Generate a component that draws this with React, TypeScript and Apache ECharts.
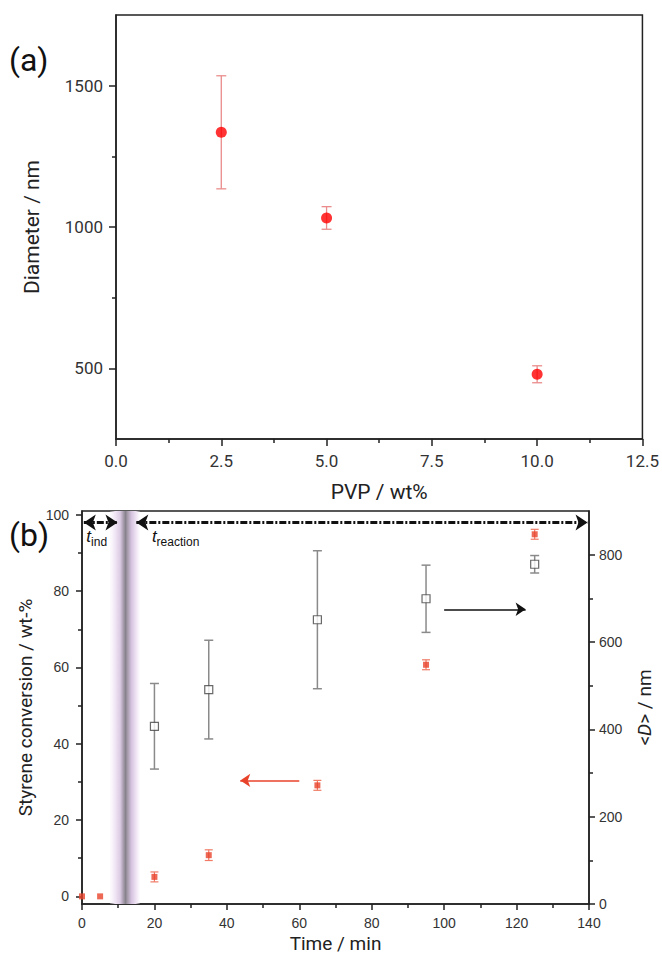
import React, { useEffect, useRef } from "react";
import * as echarts from "echarts";

// ---- Panel (a) data ----
const PVP = [2.5, 5.0, 10.0];
const DIAM = [1335, 1032, 479];
const DIAM_ERR = [200, 40, 30];
const A_Y_LABELS = [500, 1000, 1500];
const A_Y_MINOR = [750, 1250];

// ---- Panel (b) data ----
const TIME_CONV = [0, 5, 20, 35, 65, 95, 125];
const CONV = [0, 0, 5.1, 10.8, 29.1, 60.7, 94.9];
const CONV_ERR = [0, 0, 1.3, 1.4, 1.3, 1.3, 1.3];
const TIME_D = [20, 35, 65, 95, 125];
const DSIZE = [407, 491, 651, 699, 778];
const DSIZE_ERR = [98, 113, 158, 77, 20];
const B_LEFT_LABELS = [0, 20, 40, 60, 80, 100];
const B_LEFT_MINOR = [10, 30, 50, 70, 90];
const B_RIGHT_LABELS = [0, 200, 400, 600, 800];
const B_RIGHT_MINOR = [100, 300, 500, 700];
const IND_BAND = [7.7, 16.0];
const T_IND = [0.5, 9.8];
const T_REACT = [15, 139.6];
const ARROW_Y = 98;
const RED_ARROW = { from: 60, to: 43.7, y: 30.4 };
const BLACK_ARROW = { from: 100, to: 122.5, y: 675 };

const AXC = "#222";
const LBL = "#333";

function errorBar(capHalf: number, color: string, width: number) {
  return (params: any, api: any) => {
    const x = api.value(0);
    const lo = api.value(1);
    const hi = api.value(2);
    const top = api.coord([x, hi]);
    const bot = api.coord([x, lo]);
    const style = { stroke: color, lineWidth: width };
    return {
      type: "group",
      children: [
        { type: "line", shape: { x1: top[0], y1: top[1], x2: bot[0], y2: bot[1] }, style },
        { type: "line", shape: { x1: top[0] - capHalf, y1: top[1], x2: top[0] + capHalf, y2: top[1] }, style },
        { type: "line", shape: { x1: bot[0] - capHalf, y1: bot[1], x2: bot[0] + capHalf, y2: bot[1] }, style },
      ],
    };
  };
}

export default function App() {
  const ref = useRef<HTMLDivElement>(null);
  useEffect(() => {
    if (!ref.current) return;
    const chart = echarts.init(ref.current, null, { renderer: "svg" });

    const axisLine = { show: true, onZero: false, lineStyle: { color: AXC, width: 1.5 } };
    const plain = (v: number) => String(v);
    const minorAxis = (gridIndex: number, position: string, min: number, max: number, vals: number[]) => ({
      type: "value",
      gridIndex,
      position,
      offset: 0,
      min,
      max,
      axisLine: { show: false, onZero: false },
      axisLabel: { show: false },
      splitLine: { show: false },
      axisTick: { show: true, customValues: vals, length: 4, lineStyle: { color: AXC, width: 1.5 } },
    });

    const option: any = {
      animation: false,
      backgroundColor: "#fff",
      grid: [
        { left: 116, top: 15, width: 527, height: 424, show: true, borderColor: AXC, borderWidth: 1.5, backgroundColor: "transparent" },
        { left: 82, top: 511, width: 512, height: 393, show: true, borderColor: AXC, borderWidth: 1.5, backgroundColor: "transparent" },
      ],
      xAxis: [
        {
          type: "value",
          gridIndex: 0,
          min: 0,
          max: 12.5,
          interval: 2.5,
          axisLine,
          axisTick: { length: 7, lineStyle: { color: AXC, width: 1.5 } },
          minorTick: { show: true, splitNumber: 2, length: 4, lineStyle: { color: AXC, width: 1.5 } },
          splitLine: { show: false },
          axisLabel: { formatter: (v: number) => v.toFixed(1), fontSize: 17, color: LBL, margin: 13, fontFamily: "Roboto" },
          name: "PVP / wt%",
          nameLocation: "middle",
          nameGap: 42,
          nameTextStyle: { fontSize: 21, color: AXC, fontFamily: "Roboto" },
        },
        {
          type: "value",
          gridIndex: 1,
          min: 0,
          max: 140,
          interval: 20,
          axisLine,
          axisTick: { length: 6, lineStyle: { color: AXC, width: 1.5 } },
          minorTick: { show: true, splitNumber: 2, length: 4, lineStyle: { color: AXC, width: 1.5 } },
          splitLine: { show: false },
          axisLabel: { fontSize: 14, color: LBL, margin: 12, fontFamily: "Liberation Sans" },
          name: "Time / min",
          nameLocation: "middle",
          nameGap: 30,
          nameTextStyle: { fontSize: 19, color: AXC, fontFamily: "Roboto" },
        },
      ],
      yAxis: [
        {
          type: "value",
          gridIndex: 0,
          position: "left",
          min: 250,
          max: 1750,
          axisLine,
          axisTick: { show: true, customValues: A_Y_LABELS, length: 7, lineStyle: { color: AXC, width: 1.5 } },
          axisLabel: { customValues: A_Y_LABELS, formatter: plain, fontSize: 17, color: LBL, margin: 13, fontFamily: "Roboto" },
          splitLine: { show: false },
          name: "Diameter / nm",
          nameLocation: "middle",
          nameGap: 74,
          nameTextStyle: { fontSize: 21, color: AXC, fontFamily: "Roboto" },
        },
        minorAxis(0, "left", 250, 1750, A_Y_MINOR),
        {
          type: "value",
          gridIndex: 1,
          position: "left",
          min: -2,
          max: 101,
          axisLine,
          axisTick: { show: true, customValues: B_LEFT_LABELS, length: 6, lineStyle: { color: AXC, width: 1.5 } },
          axisLabel: { customValues: B_LEFT_LABELS, formatter: plain, fontSize: 14, color: LBL, margin: 13, fontFamily: "Liberation Sans" },
          splitLine: { show: false },
          name: "Styrene conversion / wt-%",
          nameLocation: "middle",
          nameGap: 47,
          nameTextStyle: { fontSize: 19, color: AXC, fontFamily: "Roboto" },
        },
        minorAxis(1, "left", -2, 101, B_LEFT_MINOR),
        {
          type: "value",
          gridIndex: 1,
          position: "right",
          offset: 0,
          min: 0,
          max: 900,
          axisLine,
          axisTick: { show: true, customValues: B_RIGHT_LABELS, length: 6, lineStyle: { color: AXC, width: 1.5 } },
          axisLabel: { customValues: B_RIGHT_LABELS, formatter: plain, fontSize: 14, color: LBL, margin: 10, fontFamily: "Liberation Sans" },
          splitLine: { show: false },
          name: "<{i|D}> / nm",
          nameLocation: "middle",
          nameGap: 46,
          nameTextStyle: {
            fontSize: 19,
            color: AXC,
            fontFamily: "Roboto",
            rich: { i: { fontSize: 19, fontStyle: "italic", color: AXC, fontFamily: "Roboto" } },
          },
        },
        minorAxis(1, "right", 0, 900, B_RIGHT_MINOR),
      ],
      graphic: [
        { type: "text", left: 9, top: 44, style: { text: "(a)", fontSize: 32, fill: "#111", fontFamily: "Roboto" } },
        { type: "text", left: 9, top: 519, style: { text: "(b)", fontSize: 32, fill: "#111", fontFamily: "Roboto" } },
      ],
      series: [
        // ---- (a) ----
        {
          type: "custom",
          xAxisIndex: 0,
          yAxisIndex: 0,
          z: 1,
          renderItem: errorBar(5, "#ea8c8c", 1.3),
          encode: { x: 0, y: [1, 2] },
          data: PVP.map((x, i) => [x, DIAM[i] - DIAM_ERR[i], DIAM[i] + DIAM_ERR[i]]),
        },
        {
          type: "scatter",
          xAxisIndex: 0,
          yAxisIndex: 0,
          z: 2,
          symbol: "circle",
          symbolSize: 11,
          itemStyle: { color: "#ff0000" },
          data: PVP.map((x, i) => [x, DIAM[i]]),
        },
        // ---- (b) ----
        {
          type: "scatter",
          xAxisIndex: 1,
          yAxisIndex: 2,
          z: 0,
          data: [],
          markArea: {
            silent: true,
            data: [
              [
                {
                  xAxis: IND_BAND[0],
                  itemStyle: {
                    color: {
                      type: "linear",
                      x: 0,
                      y: 0,
                      x2: 1,
                      y2: 0,
                      colorStops: [
                        { offset: 0, color: "rgba(245,236,249,0.2)" },
                        { offset: 0.18, color: "#f0e5f4" },
                        { offset: 0.34, color: "#dccbe4" },
                        { offset: 0.44, color: "#aba0b2" },
                        { offset: 0.52, color: "#87828b" },
                        { offset: 0.6, color: "#aba0b2" },
                        { offset: 0.72, color: "#d6c3df" },
                        { offset: 0.86, color: "#ece0f2" },
                        { offset: 1, color: "rgba(245,236,249,0.2)" },
                      ],
                    },
                  },
                },
                { xAxis: IND_BAND[1] },
              ],
            ],
          },
        },
        {
          type: "custom",
          xAxisIndex: 1,
          yAxisIndex: 4,
          z: 1,
          renderItem: errorBar(4.5, "#8a8a8a", 1.5),
          encode: { x: 0, y: [1, 2] },
          data: TIME_D.map((x, i) => [x, DSIZE[i] - DSIZE_ERR[i], DSIZE[i] + DSIZE_ERR[i]]),
        },
        {
          type: "scatter",
          xAxisIndex: 1,
          yAxisIndex: 4,
          z: 2,
          symbol: "rect",
          symbolSize: 8,
          itemStyle: { color: "#fff", borderColor: "#444", borderWidth: 1.2 },
          data: TIME_D.map((x, i) => [x, DSIZE[i]]),
        },
        {
          type: "custom",
          xAxisIndex: 1,
          yAxisIndex: 2,
          z: 1,
          renderItem: errorBar(4, "#f07a66", 1.2),
          encode: { x: 0, y: [1, 2] },
          data: TIME_CONV.map((x, i) => [x, CONV[i] - CONV_ERR[i], CONV[i] + CONV_ERR[i]]).filter((d, i) => CONV_ERR[i] > 0),
        },
        {
          type: "scatter",
          xAxisIndex: 1,
          yAxisIndex: 2,
          z: 2,
          symbol: "rect",
          symbolSize: 6,
          itemStyle: { color: "#e8432a" },
          data: TIME_CONV.map((x, i) => [x, CONV[i]]),
        },
        // arrows on left axis
        {
          type: "scatter",
          xAxisIndex: 1,
          yAxisIndex: 2,
          z: 3,
          data: [],
          markLine: {
            silent: true,
            symbol: ["arrow", "arrow"],
            symbolSize: 12,
            label: { show: false },
            lineStyle: { color: "#111", width: 3, type: [7, 2, 2, 2] },
            data: [
              [{ coord: [T_IND[0], ARROW_Y] }, { coord: [T_IND[1], ARROW_Y] }],
              [{ coord: [T_REACT[0], ARROW_Y] }, { coord: [T_REACT[1], ARROW_Y] }],
            ],
          },
          markPoint: {
            silent: true,
            symbol: "circle",
            symbolSize: 0,
            label: {
              show: true,
              position: "inside",
              align: "left",
              formatter: (p: any) => p.name,
              rich: {
                t: { fontSize: 17, fontStyle: "italic", fontFamily: "Liberation Sans", color: "#111", lineHeight: 22, verticalAlign: "middle" },
                s: { fontSize: 12, fontFamily: "Liberation Sans", color: "#111", lineHeight: 22, verticalAlign: "bottom", padding: [8, 0, 0, 0] },
              },
            },
            data: [
              { name: "{t|t}{s|ind}", coord: [1.2, 94.2] },
              { name: "{t|t}{s|reaction}", coord: [19.3, 94.2] },
            ],
          },
        },
        {
          type: "scatter",
          xAxisIndex: 1,
          yAxisIndex: 2,
          z: 3,
          data: [],
          markLine: {
            silent: true,
            symbol: ["none", "arrow"],
            symbolSize: 10,
            label: { show: false },
            lineStyle: { color: "#e8432a", width: 1.5, type: "solid" },
            data: [[{ coord: [RED_ARROW.from, RED_ARROW.y] }, { coord: [RED_ARROW.to, RED_ARROW.y] }]],
          },
        },
        {
          type: "scatter",
          xAxisIndex: 1,
          yAxisIndex: 4,
          z: 3,
          data: [],
          markLine: {
            silent: true,
            symbol: ["none", "arrow"],
            symbolSize: 10,
            label: { show: false },
            lineStyle: { color: "#111", width: 1.5, type: "solid" },
            data: [[{ coord: [BLACK_ARROW.from, BLACK_ARROW.y] }, { coord: [BLACK_ARROW.to, BLACK_ARROW.y] }]],
          },
        },
      ],
    };

    chart.setOption(option);
    return () => chart.dispose();
  }, []);

  return <div ref={ref} style={{ position: "fixed", left: 0, top: 0, width: 662, height: 954 }} />;
}
